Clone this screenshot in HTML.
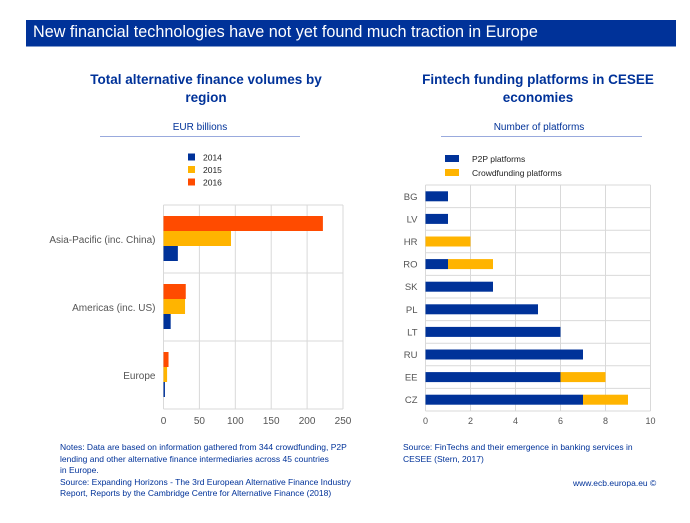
<!DOCTYPE html>
<html><head><meta charset="utf-8"><style>
body{margin:0;width:690px;height:523px;background:#fff;font-family:"Liberation Sans",sans-serif;overflow:hidden;position:relative}
.t{position:absolute;white-space:nowrap}
</style></head><body>
<div style="position:absolute;left:26px;top:20px;width:650px;height:26px;background:#003299;border-bottom:1px solid #7f99cc"></div>
<div class="t" style="left:33px;top:23px;color:#fff;font-size:16.2px">New financial technologies have not yet found much traction in Europe</div>
<div class="t" style="left:60px;width:292px;top:71px;text-align:center;color:#003299;font-weight:bold;font-size:13.5px;line-height:18px">Total alternative finance volumes by<br>region</div>
<div class="t" style="left:392px;width:292px;top:71px;text-align:center;color:#003299;font-weight:bold;font-size:13.5px;line-height:18px">Fintech funding platforms in CESEE<br>economies</div>
<div class="t" style="left:100px;width:200px;top:122px;text-align:center;color:#003299;font-size:10px">EUR billions</div>
<div style="position:absolute;left:100px;top:136px;width:200px;height:1px;background:#99aadd"></div>
<div class="t" style="left:439px;width:200px;top:122px;text-align:center;color:#003299;font-size:10px">Number of platforms</div>
<div style="position:absolute;left:441px;top:136px;width:201px;height:1px;background:#99aadd"></div>
<svg id="c" width="690" height="523" style="position:absolute;left:0;top:0" font-family="Liberation Sans, sans-serif"></svg>
<div class="t" style="left:60px;top:442px;color:#003299;font-size:8.5px;line-height:11.5px">Notes: Data are based on information gathered from 344 crowdfunding, P2P<br>lending and other alternative finance intermediaries across 45 countries<br>in Europe.<br>Source: Expanding Horizons - The 3rd European Alternative Finance Industry<br>Report, Reports by the Cambridge Centre for Alternative Finance (2018)</div>
<div class="t" style="left:403px;top:442px;color:#003299;font-size:8.5px;line-height:11.5px">Source: FinTechs and their emergence in banking services in<br>CESEE (Stern, 2017)</div>
<div class="t" style="left:573px;top:478px;color:#003299;font-size:8.5px">www.ecb.europa.eu ©</div>
<script>
const regions=["Asia-Pacific (inc. China)","Americas (inc. US)","Europe"];
const v2014=[20,10,2];
const v2015=[94,30,5];
const v2016=[222,31,7];
const xTicks1=[0,50,100,150,200,250];
const countries=["BG","LV","HR","RO","SK","PL","LT","RU","EE","CZ"];
const p2p=[1,1,0,1,3,5,6,7,6,7];
const crowd=[0,0,2,2,0,0,0,0,2,2];
const xTicks2=[0,2,4,6,8,10];
const NS="http://www.w3.org/2000/svg",svg=document.getElementById('c');
function el(t,a,txt){const e=document.createElementNS(NS,t);for(const k in a)e.setAttribute(k,a[k]);if(txt!=null)e.textContent=txt;svg.appendChild(e);return e;}
const BLUE="#003299",YEL="#ffb400",RED="#ff4b00",GRID="#d9d9d9";
const L={x0:163.5,x1:343,y0:205,y1:409};
const sx1=v=>L.x0+(v-0)/(250-0)*(L.x1-L.x0);
const band1=(L.y1-L.y0)/regions.length;
xTicks1.forEach(t=>{
 const g=el('line',{x1:sx1(t),x2:sx1(t),y1:L.y0,y2:L.y1,stroke:GRID,'stroke-width':1});
 
 const tx=el('text',{x:sx1(t),y:L.y1+15,'font-size':10,fill:'#555','text-anchor':'middle'},t);
 
});
for(let i=0;i<=regions.length;i++){const g=el('line',{x1:L.x0,x2:L.x1,y1:L.y0+i*band1,y2:L.y0+i*band1,stroke:GRID});}
regions.forEach((r,i)=>{
 const top=L.y0+i*band1,bh=15;
 const tx=el('text',{x:L.x0-8,y:top+band1/2+4,'font-size':10,fill:'#555','text-anchor':'end'},r);
 
 [[v2016,RED,'2016'],[v2015,YEL,'2015'],[v2014,BLUE,'2014']].forEach((s,j)=>{
  const b=el('rect',{x:L.x0,y:top+11+j*bh,width:sx1(s[0][i])-L.x0,height:bh,fill:s[1]});
  
 });
});
[["2014",BLUE],["2015",YEL],["2016",RED]].forEach((s,i)=>{
 const r=el('rect',{x:188,y:153.5+i*12.5,width:7,height:7,fill:s[1]});
 const t=el('text',{x:203,y:160.5+i*12.5,'font-size':8.5,fill:'#222'},s[0]);
});
const R={x0:425.5,x1:650.5,y0:185,y1:411};
const sx2=v=>R.x0+v/10*(R.x1-R.x0);
const band2=(R.y1-R.y0)/countries.length;
xTicks2.forEach(t=>{
 const g=el('line',{x1:sx2(t),x2:sx2(t),y1:R.y0,y2:R.y1,stroke:GRID});
 const tx=el('text',{x:sx2(t),y:R.y1+13,'font-size':9,fill:'#555','text-anchor':'middle'},t);
});
for(let i=0;i<=countries.length;i++){const g=el('line',{x1:R.x0,x2:R.x1,y1:R.y0+i*band2,y2:R.y0+i*band2,stroke:GRID});}
countries.forEach((c,i)=>{
 const cy=R.y0+i*band2+band2/2;
 const tx=el('text',{x:R.x0-8,y:cy+3.5,'font-size':9.5,fill:'#555','text-anchor':'end'},c);
 const b1=el('rect',{x:R.x0,y:cy-5,width:sx2(p2p[i])-R.x0,height:10,fill:BLUE});
 const b2=el('rect',{x:sx2(p2p[i]),y:cy-5,width:sx2(p2p[i]+crowd[i])-sx2(p2p[i]),height:10,fill:YEL});
});
[["P2P platforms",BLUE],["Crowdfunding  platforms",YEL]].forEach((s,i)=>{
 const r=el('rect',{x:445,y:155+i*14,width:14,height:7,fill:s[1]});
 const t=el('text',{x:472,y:162+i*14,'font-size':8.5,fill:'#222'},s[0]);
});
</script>
</body></html>
